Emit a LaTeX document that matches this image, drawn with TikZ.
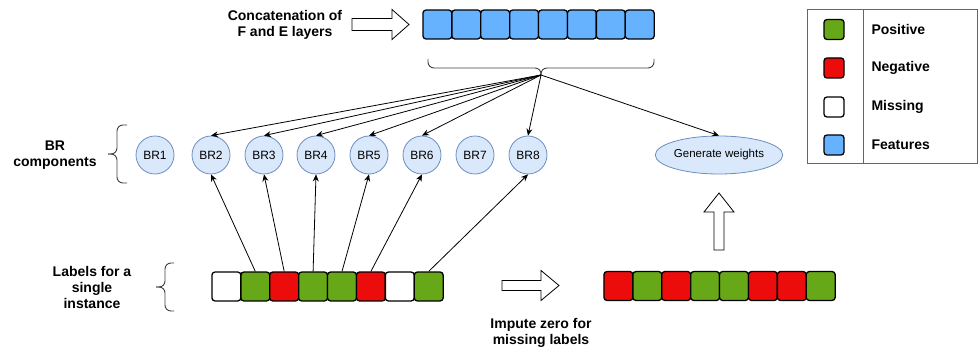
\documentclass[tikz,border=0pt]{standalone}
\usepackage{fontspec}
\setmainfont{Liberation Sans}
\usetikzlibrary{arrows.meta,shapes.geometric,calc}
\definecolor{posg}{HTML}{66A818}
\definecolor{negr}{HTML}{EC0C0C}
\definecolor{featb}{HTML}{66B2FF}
\definecolor{brfill}{HTML}{DAE8FC}
\definecolor{brdraw}{HTML}{6C8EBF}
\begin{document}
\begin{tikzpicture}[x=1pt,y=-1pt,
  cell/.style={draw=black,line width=1.3pt,rounded corners=3pt,minimum width=28.9pt,minimum height=28.9pt,inner sep=0pt},
  lgd/.style={draw=black,line width=1.3pt,rounded corners=3pt,minimum width=20pt,minimum height=20pt,inner sep=0pt},
  brc/.style={circle,draw=brdraw,fill=brfill,line width=0.8pt,minimum size=38pt,inner sep=0pt,font=\fontsize{12}{14}\selectfont},
  lbl/.style={align=center,font=\bfseries\fontsize{14}{16}\selectfont},
  ltxt/.style={anchor=west,font=\bfseries\fontsize{14}{16}\selectfont},
  conn/.style={-{Stealth[length=7pt,width=6pt]},line width=0.8pt},
  hollow/.style={draw=black,fill=white,line width=0.8pt},
  bracepath/.style={draw=black!75,line width=0.9pt,rounded corners=6pt}
]
\useasboundingbox (0,0) rectangle (978,347);

% top feature row
\foreach \i in {1,...,8}{
  \node[cell,fill=featb] (f\i) at ({437.4+28.9*(\i-1)},24.5) {};
}
% brace under features
\coordinate (tip) at (541,75);
\draw[bracepath] (428,59) -- (428,68) -- (541,68) -- (tip);
\draw[bracepath] (654,59) -- (654,68) -- (541,68) -- (tip);

% concatenation text and arrow
\node[lbl] (conc) at (285,25) {Concatenation of\\F and E layers};
\draw[hollow] (352,18.5) -- (392,18.5) -- (392,9.5) -- (409,24.5) -- (392,39.5) -- (392,30.5) -- (352,30.5) -- cycle;

% BR components
\foreach \i/\x in {1/155,2/211,3/264,4/316,5/369,6/422,7/475,8/528}{
  \node[brc] (br\i) at (\x,155) {BR\i};
}
\node[lbl] (brlab) at (55,155) {BR\\components};
\draw[bracepath] (127,125) -- (117,125) -- (117,154) -- (108,154);
\draw[bracepath] (127,183) -- (117,183) -- (117,154) -- (108,154);

% generate weights
\node[ellipse,draw=brdraw,fill=brfill,line width=0.8pt,minimum width=110pt,minimum height=38pt,inner sep=0pt,font=\fontsize{11.5}{13}\selectfont] (gw) at (719,155) {Generate weights};

% arrows from brace tip
\foreach \j in {2,3,4,5,6,8}{
  \draw[conn] (tip) -- (br\j.north);
}
\draw[conn] (tip) -- (gw.north);

% labels row
\foreach \i/\c in {1/white,2/posg,3/negr,4/posg,5/posg,6/negr,7/white,8/posg}{
  \node[cell,fill=\c] (l\i) at ({226.4+28.9*(\i-1)},286.5) {};
}
\node[lbl] (lablab) at (92,287) {Labels for a\\single\\instance};
\draw[bracepath] (174,263) -- (165,263) -- (165,287) -- (156,287);
\draw[bracepath] (174,311) -- (165,311) -- (165,287) -- (156,287);

% arrows from labels to BR
\foreach \i in {2,3,4,5,6,8}{
  \draw[conn] (l\i.north) -- (br\i.south);
}

% imputed row
\foreach \i/\c in {1/negr,2/posg,3/negr,4/posg,5/posg,6/negr,7/negr,8/posg}{
  \node[cell,fill=\c] (r\i) at ({618.4+28.9*(\i-1)},286) {};
}

% impute arrow and text
\draw[hollow] (502,280.5) -- (541,280.5) -- (541,270.5) -- (559,285.5) -- (541,300.5) -- (541,290.5) -- (502,290.5) -- cycle;
\node[lbl] (imp) at (541,333) {Impute zero for\\missing labels};

% up arrow
\draw[hollow] (714,250) -- (714,212) -- (704,212) -- (719,193) -- (734,212) -- (724,212) -- (724,250) -- cycle;

% legend
\draw[line width=1pt,draw=black!60] (807,10) rectangle (977,164);
\draw[line width=1pt,draw=black!60] (863,10) -- (863,164);
\foreach \i/\c/\t/\y in {1/posg/Positive/29.5,2/negr/Negative/68,3/white/Missing/107,4/featb/Features/145}{
  \node[lgd,fill=\c] (lg\i) at (834,\y) {};
  \node[ltxt] (lt\i) at (868,\y) {\t};
}
\end{tikzpicture}
\end{document}
